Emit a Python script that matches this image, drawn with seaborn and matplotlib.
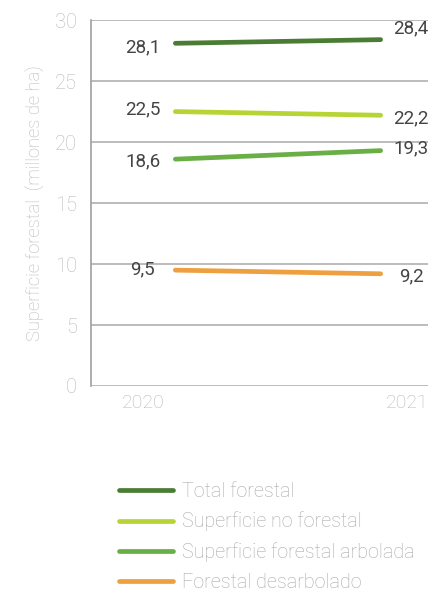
import numpy as np
import matplotlib.pyplot as plt
import pandas as pd
import seaborn as sns

# datos
years = ["2020", "2021"]
series = ["Total forestal", "Superficie no forestal",
          "Superficie forestal arbolada", "Forestal desarbolado"]
total_forestal = [28.1, 28.4]
no_forestal = [22.5, 22.2]
arbolada = [18.6, 19.3]
desarbolado = [9.5, 9.2]
colores = ["#4b7c34", "#b6d433", "#6aae46", "#eea03f"]

valores = [total_forestal, no_forestal, arbolada, desarbolado]
rows = []
for s, vals in zip(series, valores):
    for i, v in enumerate(vals):
        rows.append({"idx": i, "anio": years[i], "serie": s, "valor": v})
df = pd.DataFrame(rows)

sns.set_theme(style="white")
plt.rcParams["font.family"] = ["Roboto", "DejaVu Sans"]

fig = plt.figure(figsize=(4.28, 5.92), dpi=100)
ax = fig.add_axes([0.2126, 0.348, 0.80, 0.618])

sns.lineplot(data=df, x="idx", y="valor", hue="serie", hue_order=series,
             palette=colores, linewidth=3.4, ax=ax, legend=False,
             solid_capstyle="round")

ax.set_ylim(0, 30)
ax.set_xlim(-0.411, 1.257)
ax.set_yticks(range(0, 31, 5))
ax.set_yticklabels([str(t) for t in range(0, 31, 5)], color="#b8b8b8",
                   fontsize=14.5, fontweight="light")
ax.set_xticks([-0.158, 1.13])
ax.set_xticklabels(years, color="#b8b8b8", fontsize=14, fontweight="light")
ax.tick_params(axis="y", length=0, pad=10)
ax.tick_params(axis="x", length=0, pad=6)
ax.grid(axis="y", color="#b0b0b0", linewidth=1.2)
ax.set_axisbelow(True)
for side in ["top", "right", "bottom"]:
    ax.spines[side].set_visible(False)
ax.spines["left"].set_color("#a0a0a0")
ax.spines["left"].set_linewidth(1.2)
ax.set_xlabel("")
ax.set_ylabel("Superficie forestal  (millones de ha)", color="#b8b8b8",
              fontsize=13.2, fontweight="light", labelpad=8)

# etiquetas de valores
offs_izq = [-0.3, 0.15, -0.2, 0.1]
offs_der = [0.95, -0.25, 0.15, -0.25]
for vals, oi, od in zip(valores, offs_izq, offs_der):
    ax.text(-0.158, vals[0] + oi, f"{vals[0]:.1f}".replace(".", ","),
            ha="center", va="center", fontsize=13.5, color="#444444")
    ax.text(1.149, vals[1] + od, f"{vals[1]:.1f}".replace(".", ","),
            ha="center", va="center", fontsize=13.5, color="#444444")

handles = [plt.Line2D([], [], color=c, linewidth=3.4, solid_capstyle="round")
           for c in colores]
leg = fig.legend(handles, series, loc="upper left",
                 bbox_to_anchor=(0.236, 0.216), frameon=False,
                 fontsize=14.2, handlelength=2.75, handletextpad=0.45,
                 labelspacing=0.55)
for t in leg.get_texts():
    t.set_color("#a8a8a8")
    t.set_fontweight("light")

fig.savefig("out.png", dpi=100)
